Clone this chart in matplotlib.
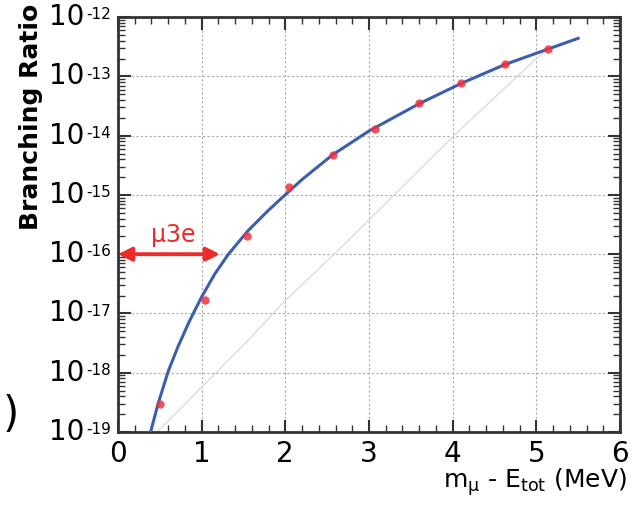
import numpy as np
import matplotlib
matplotlib.use("Agg")
import matplotlib.pyplot as plt
import matplotlib.transforms as mtransforms
from matplotlib.ticker import MultipleLocator, LogLocator, NullFormatter

# blue curve
curve_x = [0.39, 0.48, 0.60, 0.72, 0.85, 1.00, 1.16, 1.32, 1.55, 1.78,
           1.98, 2.20, 2.56, 3.00, 3.60, 4.10, 4.62, 5.14, 5.50]
curve_y = [1.0e-19, 3.0e-19, 1.05e-18, 2.8e-18, 7.2e-18, 1.9e-17, 4.7e-17,
           1.0e-16, 2.45e-16, 5.2e-16, 9.5e-16, 1.82e-15, 4.7e-15,
           1.2e-14, 3.47e-14, 7.6e-14, 1.58e-13, 2.9e-13, 4.4e-13]

# red points
pts_x = [0.50, 1.04, 1.54, 2.04, 2.57, 3.07, 3.60, 4.10, 4.62, 5.14]
pts_y = [3.0e-19, 1.7e-17, 2.0e-16, 1.35e-15, 4.8e-15, 1.3e-14,
         3.6e-14, 7.7e-14, 1.6e-13, 2.9e-13]

# faint gray line
gray_x = [0.47, 1.57, 1.98, 2.68, 4.03, 5.00, 5.15]
gray_y = [1.0e-19, 3.7e-18, 1.55e-17, 1.35e-16, 1.05e-14, 2.0e-13, 3.0e-13]

# mu3e sensitivity arrow
arrow_x = [0.0, 1.22]
arrow_y = 1e-16

y_exponents = [-12, -13, -14, -15, -16, -17, -18, -19]

fig = plt.figure(figsize=(6.34, 5.05), dpi=100)
ax = fig.add_axes([0.186, 0.1446, 0.792, 0.8214])

ax.plot(gray_x, gray_y, color="#dddddd", lw=1.0, zorder=2)
ax.plot(curve_x, curve_y, color="#3b5fae", lw=2.2, zorder=3)
ax.plot(pts_x, pts_y, "o", color="#ee3340", ms=6, alpha=0.85, mec="none", zorder=4)

ax.annotate("", xy=(arrow_x[0], arrow_y), xytext=(arrow_x[1], arrow_y),
            arrowprops=dict(arrowstyle="<|-|>", color="#ee2a2a", lw=2.8,
                            mutation_scale=20, shrinkA=0, shrinkB=0), zorder=5)
ax.text(0.66, 1.6e-16, "μ3e", color="#ee2a2a", fontsize=17,
        ha="center", va="baseline")

ax.set_yscale("log")
ax.set_xlim(0, 6)
ax.set_ylim(1e-19, 1e-12)

ax.xaxis.set_major_locator(MultipleLocator(1))
ax.xaxis.set_minor_locator(MultipleLocator(0.2))
ax.yaxis.set_major_locator(LogLocator(base=10, numticks=20))
ax.yaxis.set_minor_locator(LogLocator(base=10, subs=np.arange(2, 10), numticks=20))
ax.yaxis.set_minor_formatter(NullFormatter())
ax.yaxis.set_major_formatter(NullFormatter())

ax.tick_params(which="both", direction="in", top=True, right=True, color="#333333")
ax.tick_params(which="major", length=9, width=1.5, labelsize=20, pad=6)
ax.tick_params(which="minor", length=5, width=1.0)

# y tick labels drawn by hand: big "10" with a small hyphen exponent
trans = mtransforms.blended_transform_factory(ax.transAxes, ax.transData)
for e in y_exponents:
    ax.text(-0.066, 10.0 ** e, "10", transform=trans, fontsize=20,
            ha="right", va="center", clip_on=False)
    ax.annotate(str(e), xy=(-0.064, 10.0 ** e), xycoords=trans,
                xytext=(0, 7), textcoords="offset points", fontsize=11,
                ha="left", va="top", annotation_clip=False)

ax.grid(True, which="major", color="#aaaaaa", ls=(0, (2, 2)), lw=0.8)

for s in ax.spines.values():
    s.set_color("#333333")
    s.set_linewidth(2)

ax.set_ylabel("Branching Ratio", fontsize=18, fontweight="semibold")
ax.yaxis.set_label_coords(-0.149, 0.76)

ax.set_xlabel("m$_{\\mathrm{μ}}$ - E$_{\\mathrm{tot}}$ (MeV)", fontsize=18,
              loc="right")
ax.xaxis.set_label_coords(1.014, -0.082)

fig.text(0.004, 0.178, ")", fontsize=30, ha="left", va="center")

fig.savefig("out.png", dpi=100)
